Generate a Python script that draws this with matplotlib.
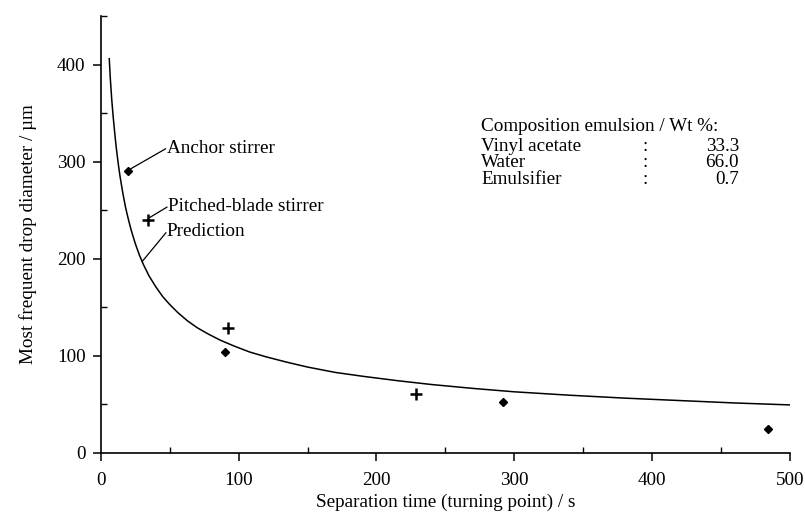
"""Most frequent drop diameter versus separation time, with prediction curve."""

import matplotlib

matplotlib.use("Agg")
import matplotlib.pyplot as plt
from matplotlib.ticker import MultipleLocator

# prediction curve
pred_t = [6.2, 7, 8, 9, 10, 11, 12, 13, 14, 16, 18, 20, 22, 25, 28, 31, 35, 40,
          45, 50, 56, 63, 70, 78, 87, 97, 108, 120, 135, 150, 170, 190, 215,
          240, 270, 300, 340, 380, 420, 460, 500]
pred_d = [406, 385, 364, 347, 332, 318, 306, 295, 285, 268, 253, 241, 230, 216,
          204, 194, 182.5, 171, 161, 153, 144.5, 136, 129, 122.5, 116, 110, 104,
          99, 93.5, 88.5, 83, 79, 74.5, 70.5, 66.5, 63, 59.5, 56.5, 54, 51.5,
          49.5]

# measurements
anchor_t = [20, 90, 292, 484]
anchor_d = [290, 104, 52, 25]
pitched_t = [34, 92, 229]
pitched_d = [240, 129, 61]

comp_names = ["Vinyl acetate", "Water", "Emulsifier"]
comp_values = ["33.3", "66.0", "0.7"]

FS = 13.8


def main() -> None:
    plt.rcParams["font.family"] = ["Liberation Serif", "DejaVu Serif"]
    fig = plt.figure(figsize=(8.05, 5.14), dpi=100)
    ax = fig.add_axes([0.1251, 0.1187, 0.9814 - 0.1251, 0.9689 - 0.1187])

    ax.plot(pred_t, pred_d, color="black", linewidth=1.1)
    ax.plot(anchor_t, anchor_d, linestyle="none", marker="D", markersize=4.5,
            color="black", clip_on=False)
    ax.plot(pitched_t, pitched_d, linestyle="none", marker="+", markersize=8,
            markeredgewidth=1.8, color="black", clip_on=False)

    ax.set_xlim(0, 500)
    ax.set_ylim(0, 450)
    for side in ("top", "right"):
        ax.spines[side].set_visible(False)
    for side in ("left", "bottom"):
        ax.spines[side].set_linewidth(1.2)

    ax.xaxis.set_major_locator(MultipleLocator(100))
    ax.xaxis.set_minor_locator(MultipleLocator(50))
    ax.yaxis.set_minor_locator(MultipleLocator(50))
    ax.set_yticks([0, 100, 200, 300, 400])
    ax.tick_params(which="major", direction="out", length=6, width=1.1,
                   labelsize=FS)
    ax.tick_params(axis="x", which="major", pad=8)
    ax.tick_params(axis="y", which="major", pad=5)
    ax.tick_params(which="minor", direction="in", length=4, width=1.0)

    ax.set_xlabel("Separation time (turning point) / s", fontsize=FS, labelpad=3)
    ax.set_ylabel("Most frequent drop diameter / µm", fontsize=FS, labelpad=14)

    line_kw = dict(arrowstyle="-", color="black", linewidth=0.9, shrinkA=1,
                   shrinkB=0, relpos=(0.0, 0.5), patchA=None)
    ax.annotate("Anchor stirrer", xy=(21, 292), xytext=(48, 314),
                fontsize=FS, va="center", ha="left", arrowprops=line_kw)
    ax.annotate("Pitched-blade stirrer", xy=(35, 242), xytext=(49, 254),
                fontsize=FS, va="center", ha="left", arrowprops=line_kw)
    ax.annotate("Prediction", xy=(30, 197), xytext=(48, 228),
                fontsize=FS, va="center", ha="left", arrowprops=line_kw)

    ax.text(276, 336, "Composition emulsion / Wt %:", fontsize=FS, va="center", ha="left")
    for i, (name, val) in enumerate(zip(comp_names, comp_values)):
        y = 316 - 17.2 * i
        ax.text(276, y, name, fontsize=FS, va="center", ha="left")
        ax.text(395, y, ":", fontsize=FS, va="center", ha="center")
        ax.text(463, y, val, fontsize=FS, va="center", ha="right")

    fig.savefig("out.png", dpi=100)
    plt.close(fig)


if __name__ == "__main__":
    main()
